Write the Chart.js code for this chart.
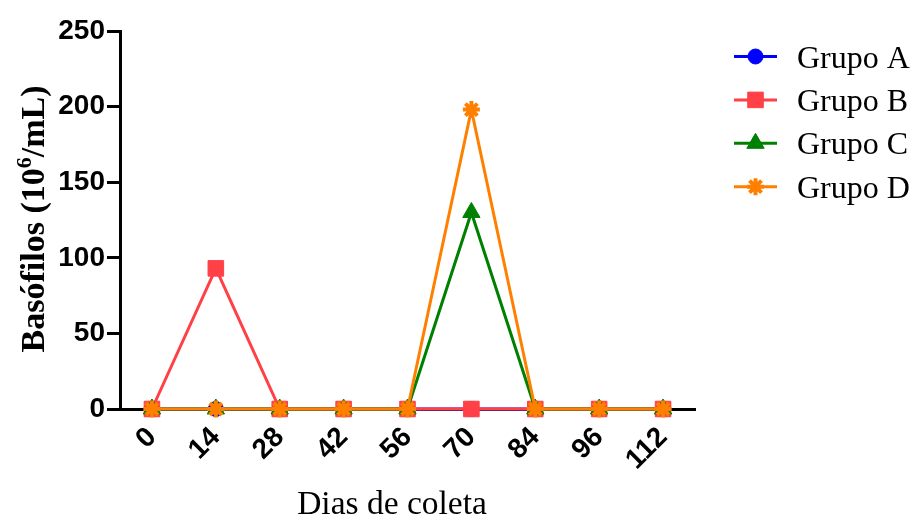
<!DOCTYPE html>
<html>
<head>
<meta charset="utf-8">
<script src="https://cdn.jsdelivr.net/npm/chart.js@4.4.1/dist/chart.umd.min.js"></script>
<style>
  html, body { margin: 0; padding: 0; background: #fff; }
  #c { display: block; }
</style>
</head>
<body>
<canvas id="c" width="914" height="520"></canvas>
<script>
// Collection days and basophil counts (10^6/mL) per group
const days = ['0', '14', '28', '42', '56', '70', '84', '96', '112'];
const grupoA = [0, 0, 0, 0, 0, 0, 0, 0, 0];
const grupoB = [0, 93, 0, 0, 0, 0, 0, 0, 0];
const grupoC = [0, 0, 0, 0, 0, 130, 0, 0, 0];
const grupoD = [0, 0, 0, 0, 0, 198, 0, 0, 0];
const yTickValues = [0, 50, 100, 150, 200, 250];
const groupNames = ['Grupo A', 'Grupo B', 'Grupo C', 'Grupo D'];

const SERIF = '"Liberation Serif", "Times New Roman", serif';
const SANS = '"Liberation Sans", Arial, sans-serif';

function series(label, data, color, style, radius, bw, order) {
  return {
    label, data, order,
    clip: false,
    borderColor: color, backgroundColor: color,
    borderWidth: 3, tension: 0,
    pointStyle: style, pointRadius: radius, pointHoverRadius: radius,
    pointBackgroundColor: color, pointBorderColor: color, pointBorderWidth: bw
  };
}

// Legend and axis titles drawn on top of the chart
const decorations = {
  id: 'decorations',
  afterDraw(chart) {
    const ctx = chart.ctx;
    const ca = chart.chartArea;
    ctx.save();

    // legend: line with marker, then the group name
    chart.data.datasets.forEach((ds, i) => {
      const y = 56.5 + i * 43.4;
      const x0 = ca.right + 39;
      ctx.strokeStyle = ds.borderColor;
      ctx.lineWidth = 3;
      ctx.beginPath();
      ctx.moveTo(x0, y);
      ctx.lineTo(x0 + 43, y);
      ctx.stroke();
      ctx.fillStyle = ds.pointBackgroundColor;
      ctx.strokeStyle = ds.pointBorderColor;
      ctx.lineWidth = ds.pointBorderWidth;
      Chart.helpers.drawPoint(ctx, {
        pointStyle: ds.pointStyle, radius: ds.pointRadius,
        borderWidth: ds.pointBorderWidth, rotation: 0
      }, x0 + 21.5, y);
      ctx.fillStyle = '#000';
      ctx.font = '32px ' + SERIF;
      ctx.textAlign = 'left';
      ctx.textBaseline = 'alphabetic';
      ctx.fillText(ds.label, x0 + 63, y + 11);
    });

    // x axis title
    ctx.fillStyle = '#000';
    ctx.font = '33.5px ' + SERIF;
    ctx.textAlign = 'center';
    ctx.textBaseline = 'alphabetic';
    ctx.fillText('Dias de coleta', ca.left + 272, 514);

    // y axis title with superscript exponent
    const mainFont = 'bold 34px ' + SERIF;
    const supFont = 'bold 22px ' + SERIF;
    const p1 = 'Basófilos (10', p2 = '6', p3 = '/mL)';
    ctx.font = mainFont;
    const w1 = ctx.measureText(p1).width, w3 = ctx.measureText(p3).width;
    ctx.font = supFont;
    const w2 = ctx.measureText(p2).width;
    const total = w1 + w2 + w3;
    ctx.translate(44, 219);
    ctx.rotate(-Math.PI / 2);
    ctx.textAlign = 'left';
    let x = -total / 2;
    ctx.font = mainFont;
    ctx.fillText(p1, x, 0);
    x += w1;
    ctx.font = supFont;
    ctx.fillText(p2, x, -13);
    x += w2;
    ctx.font = mainFont;
    ctx.fillText(p3, x, 0);

    ctx.restore();
  }
};

new Chart(document.getElementById('c'), {
  type: 'line',
  data: {
    labels: days,
    datasets: [
      series(groupNames[0], grupoA, '#0000FF', 'circle', 7.5, 1, 4),
      series(groupNames[1], grupoB, '#FF4046', 'rect', 11, 1, 3),
      series(groupNames[2], grupoC, '#008000', 'triangle', 10, 1, 2),
      series(groupNames[3], grupoD, '#FF8000', 'star', 8.5, 4, 1)
    ]
  },
  options: {
    responsive: false,
    animation: false,
    events: [],
    layout: { padding: { top: 31, right: 219, left: 0, bottom: 0 } },
    plugins: { legend: { display: false }, tooltip: { enabled: false }, title: { display: false } },
    scales: {
      x: {
        type: 'category',
        offset: true,
        afterFit(scale) { scale.height = 111; },
        grid: {
          drawOnChartArea: false, drawTicks: true,
          tickLength: 8, tickWidth: 3, tickColor: '#000', offset: false
        },
        border: { display: true, color: '#000', width: 3 },
        ticks: {
          color: '#000', font: { family: SANS, size: 28, weight: 'bold' },
          maxRotation: 45, minRotation: 45, padding: 4, autoSkip: false
        }
      },
      y: {
        min: 0, max: 250,
        afterFit(scale) { scale.width = 120; },
        afterBuildTicks(scale) { scale.ticks = yTickValues.map(v => ({ value: v })); },
        grid: {
          drawOnChartArea: false, drawTicks: true,
          tickLength: 13, tickWidth: 3, tickColor: '#000'
        },
        border: { display: true, color: '#000', width: 3 },
        ticks: {
          color: '#000', font: { family: SANS, size: 28, weight: 'bold' },
          padding: 2
        }
      }
    }
  },
  plugins: [decorations]
});
</script>
</body>
</html>
